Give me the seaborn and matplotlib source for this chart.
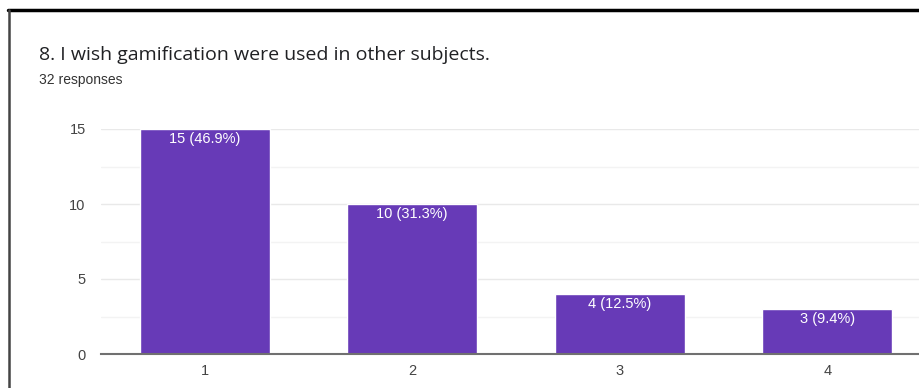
import matplotlib
matplotlib.use("Agg")
import matplotlib.pyplot as plt
import seaborn as sns
import pandas as pd
from decimal import Decimal, ROUND_HALF_UP
from matplotlib.lines import Line2D
from matplotlib.ticker import MultipleLocator

# Survey answers for question 8
categories = ["1", "2", "3", "4"]
counts = [15, 10, 4, 3]
total_responses = 32
title = "8. I wish gamification were used in other subjects."
subtitle = f"{total_responses} responses"


def pct(c):
    v = Decimal(c * 100) / Decimal(total_responses)
    return v.quantize(Decimal("0.1"), rounding=ROUND_HALF_UP)


df = pd.DataFrame({"answer": categories, "count": counts})
df["label"] = [f"{c} ({pct(c)}%)" for c in counts]

sns.set_theme(style="white")
plt.rcParams["font.family"] = ["Liberation Sans", "DejaVu Sans"]

W, H = 920, 388
fig = plt.figure(figsize=(W / 100, H / 100), dpi=100)
fig.patch.set_facecolor("white")

# plot area (pixel geometry converted to figure fractions)
x0, x1 = 101, 931
y_top, y_bot = 129, 354
ax = fig.add_axes([x0 / W, 1 - y_bot / H, (x1 - x0) / W, (y_bot - y_top) / H])

purple = "#673ab7"
sns.barplot(data=df, x="answer", y="count", color=purple, saturation=1,
            width=0.625, ax=ax, zorder=3)

ax.set_ylim(0, 15)
ax.set_xlim(-0.5, 3.5)
ax.yaxis.set_major_locator(MultipleLocator(5))
ax.yaxis.set_minor_locator(MultipleLocator(2.5))
ax.grid(axis="y", which="major", color="#e9e9e9", linewidth=1, zorder=0)
ax.grid(axis="y", which="minor", color="#f3f3f3", linewidth=1, zorder=0)
ax.set_axisbelow(True)

for s in ["top", "right", "left"]:
    ax.spines[s].set_visible(False)
ax.spines["bottom"].set_color("#707070")
ax.spines["bottom"].set_linewidth(1.5)
ax.spines["bottom"].set_zorder(4)

ax.set_xlabel("")
ax.set_ylabel("")
ax.tick_params(axis="both", which="both", length=0, labelsize=10.5, labelcolor="#444444")
ax.tick_params(axis="y", pad=11)
ax.tick_params(axis="x", pad=7)

# value labels inside the top of each bar
for bar, lab in zip(ax.patches, df["label"]):
    ax.annotate(lab, (bar.get_x() + bar.get_width() / 2, bar.get_height()),
                xytext=(0, -2), textcoords="offset points",
                ha="center", va="top", color="white", fontsize=10.5, zorder=5)

# headings
fig.text(39 / W, 1 - 55 / H, title, fontsize=14, color="#202124",
         ha="left", va="center", family=["Open Sans", "DejaVu Sans"])
fig.text(39 / W, 1 - 80 / H, subtitle, fontsize=10, color="#333333",
         ha="left", va="center")

# card frame on top and left
fig.add_artist(Line2D([8 / W, 1], [1 - 10 / H, 1 - 10 / H],
                      transform=fig.transFigure, color="black", linewidth=2.5))
fig.add_artist(Line2D([9 / W, 9 / W], [0, 1 - 10 / H],
                      transform=fig.transFigure, color="#444444", linewidth=1.8))

fig.savefig("out.png", dpi=100, facecolor="white")
